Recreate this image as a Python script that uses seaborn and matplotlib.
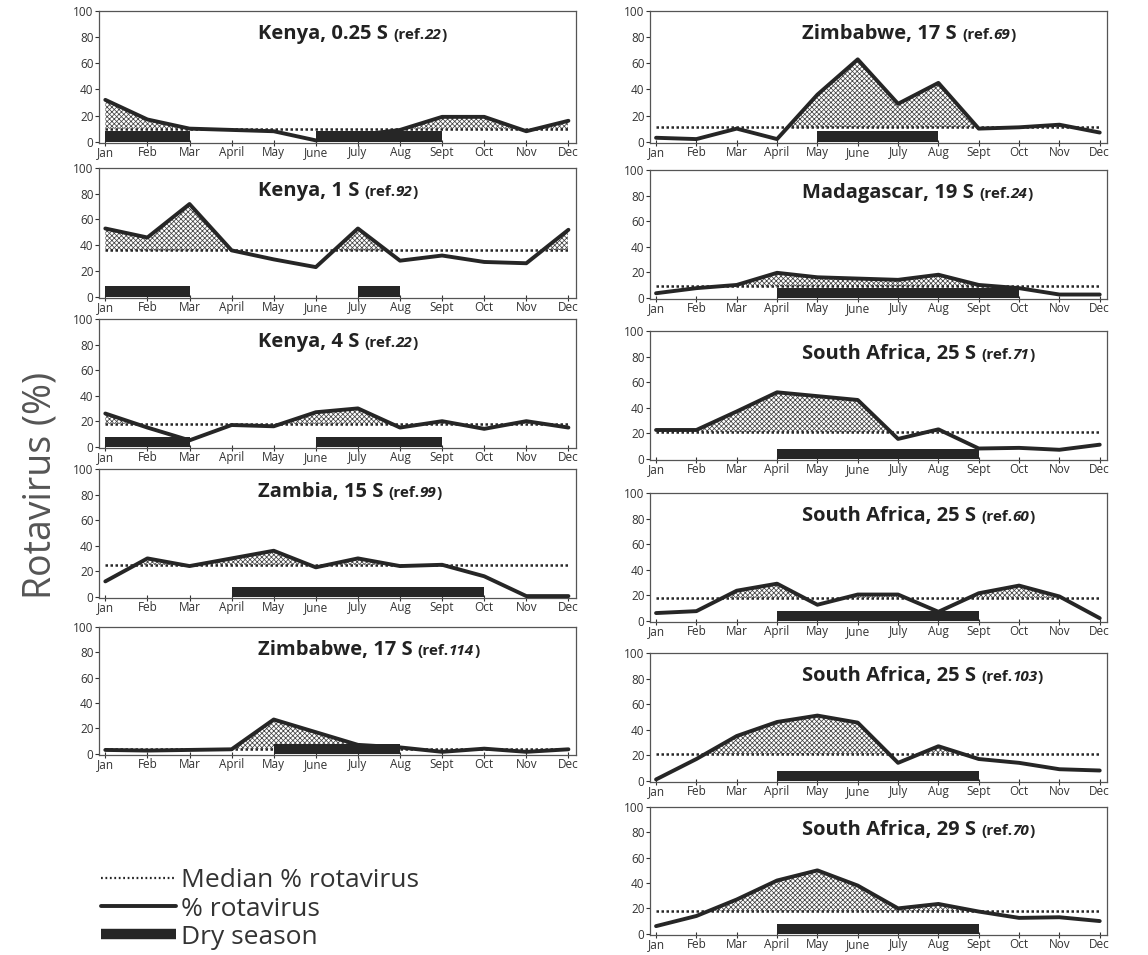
import matplotlib
matplotlib.use("Agg")
import numpy as np
import matplotlib.pyplot as plt
import seaborn as sns
from matplotlib.lines import Line2D

months = ["Jan", "Feb", "Mar", "April", "May", "June", "July", "Aug", "Sept", "Oct", "Nov", "Dec"]

# % rotavirus by month
kenya_025 = [32, 17, 10, 9, 8, 1, 5, 9, 19, 19, 8, 16]
kenya_1 = [53, 46, 72, 36, 29, 23, 53, 28, 32, 27, 26, 52]
kenya_4 = [26, 15, 5, 17, 16, 27, 30, 15, 20, 14, 20, 15]
zambia_15 = [12, 30, 24, 30, 36, 23, 30, 24, 25, 16, 0.5, 0.5]
zimbabwe_114 = [3, 2.5, 3, 3.5, 27, 17, 7, 5, 1.5, 4, 1.5, 3.5]
zimbabwe_69 = [3, 2, 10, 2, 36, 63, 29, 45, 10, 11, 13, 7]
madagascar_19 = [3.5, 7.5, 10, 19.5, 16, 15, 14, 18, 10, 7.5, 2.5, 2.5]
safrica_71 = [22.5, 22.5, 37, 52, 49, 46, 15.5, 23, 8, 8.5, 7, 11]
safrica_60 = [6, 7.5, 23.5, 29, 12.5, 20.5, 20.5, 7, 21.5, 27.5, 19, 2]
safrica_103 = [1, 17, 35, 46, 51, 45.5, 14, 27, 17, 14, 9, 8]
safrica_70 = [6, 14, 27, 42, 50, 38, 20, 23.5, 17.5, 12.5, 13, 10]

left_sites = ["Kenya, 0.25 S", "Kenya, 1 S", "Kenya, 4 S", "Zambia, 15 S", "Zimbabwe, 17 S"]
left_refs = ["22", "92", "22", "99", "114"]
left_values = [kenya_025, kenya_1, kenya_4, zambia_15, zimbabwe_114]
left_medians = [10, 36, 18, 25, 4]
# dry season as (first month index, last month index)
left_dry = [[(0, 2), (5, 8)], [(0, 2), (6, 7)], [(0, 2), (5, 8)], [(3, 9)], [(4, 7)]]

right_sites = ["Zimbabwe, 17 S", "Madagascar, 19 S", "South Africa, 25 S",
               "South Africa, 25 S", "South Africa, 25 S", "South Africa, 29 S"]
right_refs = ["69", "24", "71", "60", "103", "70"]
right_values = [zimbabwe_69, madagascar_19, safrica_71, safrica_60, safrica_103, safrica_70]
right_medians = [11, 9, 21, 18, 21, 18]
right_dry = [[(4, 7)], [(3, 9)], [(3, 8)], [(3, 8)], [(3, 8)], [(3, 8)]]

dry_height = 8

sns.set_style("ticks")
plt.rcParams['font.family'] = ['Open Sans', 'DejaVu Sans']
plt.rcParams['hatch.linewidth'] = 0.55
plt.rcParams['hatch.color'] = '#444444'

W, H = 1148, 955
fig = plt.figure(figsize=(W / 100, H / 100), dpi=100)
renderer = fig.canvas.get_renderer()

ink = '#262626'
x = np.arange(12)


def add_title(ax, site, ref):
    # bold site name, then smaller "(ref." with the number in italics, on one baseline
    parts = [(site + ' ', 14.5, 'normal'), ('(ref.', 11, 'normal'), (ref, 11, 'italic'), (')', 11, 'normal')]
    xpos, ybase = 1 / 3, 0.785
    for txt, size, style in parts:
        t = ax.text(xpos, ybase, txt, transform=ax.transAxes, fontsize=size, fontweight='bold',
                    fontstyle=style, color='#222', va='baseline', ha='left')
        bb = t.get_window_extent(renderer)
        xpos = ax.transAxes.inverted().transform((bb.x1, bb.y0))[0]


def draw_panel(box, site, ref, vals, median, dry):
    left, right, top, bottom = box
    ax = fig.add_axes([left / W, 1 - bottom / H, (right - left) / W, (bottom - top) / H])
    vals = np.array(vals, dtype=float)

    # hatched area above the median
    ax.fill_between(x, median, vals, where=vals > median, interpolate=True,
                    facecolor='white', hatch='xxxxxxx', edgecolor='#444444', linewidth=0, zorder=1)
    ax.hlines(median, 0, 11, colors=ink, linestyles=(0, (1, 1)), linewidth=1.8, zorder=2)
    sns.lineplot(x=x, y=vals, ax=ax, color=ink, linewidth=2.8, zorder=3)
    for start, end in dry:
        ax.bar(start, dry_height, width=end - start, align='edge', color='#262626', linewidth=0, zorder=4)

    ax.set_xlim(-0.15, 11.18)
    ax.set_ylim(-1, 100)
    ax.set_xticks(x)
    ax.set_xticklabels(months)
    ax.set_yticks([0, 20, 40, 60, 80, 100])
    ax.tick_params(axis='x', direction='inout', length=5, width=0.8, labelsize=8.5, pad=0, colors='#333')
    ax.tick_params(axis='y', direction='out', length=3, width=0.8, labelsize=8.5, pad=1, colors='#333')
    for sp in ax.spines.values():
        sp.set_visible(True)
        sp.set_color('#555')
        sp.set_linewidth(0.9)
    ax.set_xlabel('')
    ax.set_ylabel('')
    add_title(ax, site, ref)
    return ax


left_boxes = [(99, 576, 11, 143), (99, 576, 168, 298), (99, 576, 319, 448),
              (99, 576, 469, 598), (99, 576, 627, 755)]
right_boxes = [(650, 1107, 11, 143), (650, 1107, 170, 299), (650, 1107, 331, 460),
               (650, 1107, 493, 622), (650, 1107, 653, 782), (650, 1107, 807, 935)]

for box, s, r, v, m, d in zip(left_boxes, left_sites, left_refs, left_values, left_medians, left_dry):
    draw_panel(box, s, r, v, m, d)
for box, s, r, v, m, d in zip(right_boxes, right_sites, right_refs, right_values, right_medians, right_dry):
    draw_panel(box, s, r, v, m, d)

fig.text(41 / W, 1 - 485 / H, 'Rotavirus (%)', rotation=90, fontsize=27,
         color='#555', ha='center', va='center')

handles = [
    Line2D([], [], color=ink, linestyle=(0, (0.8, 1.2)), linewidth=1.6),
    Line2D([], [], color=ink, linewidth=2.8),
    Line2D([], [], color='#262626', linewidth=7.5, solid_capstyle='butt'),
]
labels = ['Median % rotavirus', '% rotavirus', 'Dry season']
fig.legend(handles, labels, loc='lower left', bbox_to_anchor=(85 / W, -0.011),
           frameon=False, fontsize=19, handlelength=2.85, handletextpad=0.2,
           labelspacing=0.12, borderpad=0.1, labelcolor='#333')

fig.savefig('out.png', dpi=100)
